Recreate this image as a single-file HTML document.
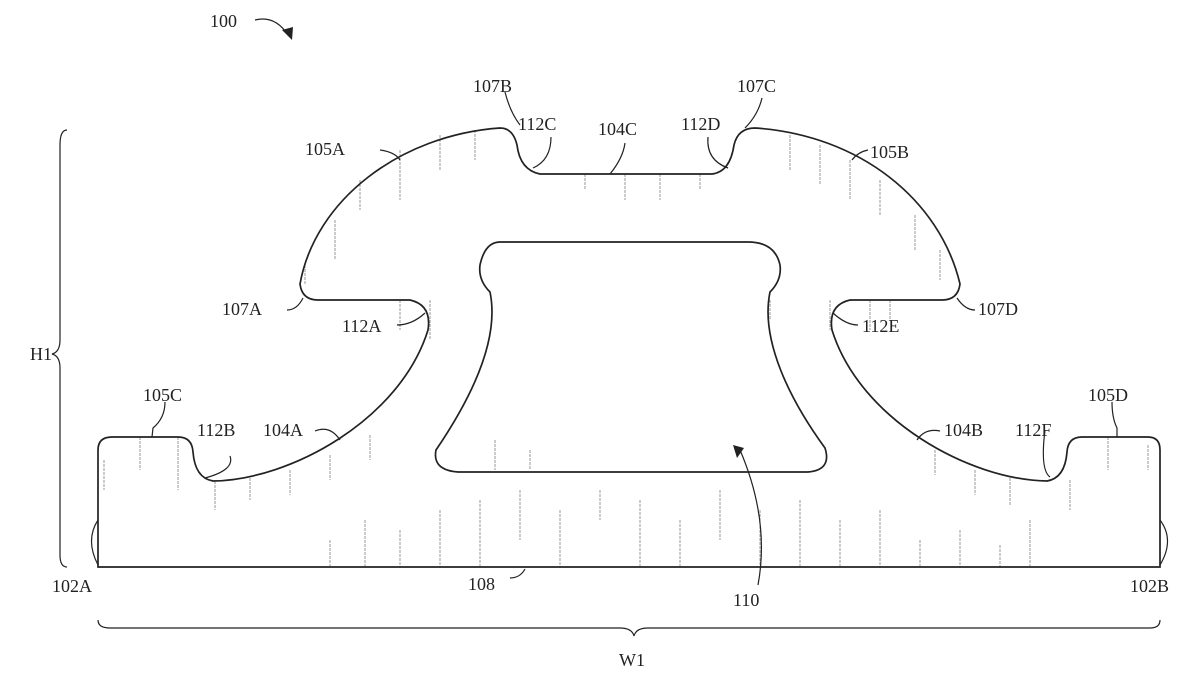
<!DOCTYPE html>
<html><head><meta charset="utf-8"><style>
html,body{margin:0;padding:0;background:#fff;}
svg{display:block}
text{font-family:"Liberation Serif",serif;font-size:18px;fill:#222}
</style></head><body>
<svg width="1200" height="679" viewBox="0 0 1200 679" xmlns="http://www.w3.org/2000/svg">
<g stroke="#999" stroke-width="1" stroke-dasharray="3,1">
<path d="M140,437V470 M178,437V490 M215,481V510 M250,478V500 M290,470V495 M330,455V480 M370,435V460 M330,540V567 M365,520V567 M400,530V567 M440,510V567 M480,500V567 M520,490V540 M560,510V567 M600,490V520 M640,500V567 M680,520V567 M720,490V540 M760,510V567 M800,500V567 M840,520V567 M880,510V567 M920,540V567 M960,530V567 M1000,545V567 M1030,520V567 M1070,480V510 M1108,437V470 M1148,445V470 M975,470V495 M1010,478V505 M935,450V475 M104,460V490"/>
<path d="M360,180V210 M400,150V200 M440,135V170 M475,130V160 M335,220V260 M305,265V285 M585,174V190 M625,174V200 M660,174V200 M700,174V190 M790,135V170 M820,145V185 M850,160V200 M880,180V215 M915,215V250 M940,250V280 M495,440V470 M530,450V470 M770,300V320 M830,300V330 M430,300V340 M400,300V330 M870,300V330 M890,300V320"/>
</g>
<g fill="none" stroke="#222" stroke-width="1.7">
<path d="M98,567 L98,450 Q98,437 112,437 L178,437 Q192,437 193,452 Q195,478 213,481 C290,480 400,420 428,330 Q432,305 410,300 L318,300 Q302,300 300,284 C315,200 400,135 500,128 Q513,128 517,145 Q520,170 540,174 L712,174 Q730,172 734,145 Q738,128 755,128 C860,135 940,200 960,284 Q958,300 942,300 L850,300 Q828,305 832,330 C860,420 970,480 1047,481 Q1065,478 1067,452 Q1068,437 1082,437 L1148,437 Q1160,437 1160,450 L1160,567 Z"/>
<path d="M500,242 L748,242 Q775,242 780,265 Q782,280 770,292 C760,340 790,400 825,448 Q832,470 808,472 L458,472 Q432,470 436,450 C470,400 500,340 490,292 Q478,280 480,265 Q485,242 500,242 Z"/>
</g>
<g fill="none" stroke="#222" stroke-width="1.2">
<path d="M67,130 Q60,130 60,145 L60,340 Q60,352 52,354 Q60,356 60,368 L60,555 Q60,567 67,567"/>
<path d="M98,620 Q98,628 110,628 L620,628 Q632,628 634,636 Q636,628 648,628 L1150,628 Q1160,628 1160,620"/>
<path d="M98,520 Q85,540 98,565"/>
<path d="M1160,520 Q1175,540 1160,565"/>
<path d="M255,20 Q275,15 288,35"/>
<path d="M380,150 Q395,152 400,160"/>
<path d="M868,150 Q858,152 852,160"/>
<path d="M287,310 Q297,310 303,298"/>
<path d="M397,325 Q412,325 425,313"/>
<path d="M230,456 Q235,470 205,478"/>
<path d="M165,402 Q165,418 153,428 L152,437"/>
<path d="M315,431 Q330,425 340,440"/>
<path d="M505,92 Q510,112 520,125"/>
<path d="M551,137 Q551,160 533,168"/>
<path d="M625,143 Q623,158 610,174"/>
<path d="M708,137 Q706,160 728,168"/>
<path d="M762,98 Q758,115 745,128"/>
<path d="M975,310 Q965,310 957,298"/>
<path d="M858,325 Q846,325 833,313"/>
<path d="M940,431 Q925,428 917,440"/>
<path d="M1045,430 Q1040,470 1050,477"/>
<path d="M1112,402 Q1112,418 1117,428 L1117,437"/>
<path d="M510,578 Q520,578 525,569"/>
<path d="M758,585 Q770,520 740,450"/>
</g>
<path d="M282,30 L292,40 L293,27 Z" fill="#222"/>
<path d="M733,445 L737,458 L744,448 Z" fill="#222"/>
<text x="210" y="27">100</text>
<text x="30" y="360">H1</text>
<text x="619" y="666">W1</text>
<text x="473" y="92">107B</text>
<text x="737" y="92">107C</text>
<text x="518" y="130">112C</text>
<text x="598" y="135">104C</text>
<text x="681" y="130">112D</text>
<text x="305" y="155">105A</text>
<text x="870" y="158">105B</text>
<text x="222" y="315">107A</text>
<text x="342" y="332">112A</text>
<text x="862" y="332">112E</text>
<text x="978" y="315">107D</text>
<text x="143" y="401">105C</text>
<text x="197" y="436">112B</text>
<text x="263" y="436">104A</text>
<text x="944" y="436">104B</text>
<text x="1015" y="436">112F</text>
<text x="1088" y="401">105D</text>
<text x="52" y="592">102A</text>
<text x="1130" y="592">102B</text>
<text x="468" y="590">108</text>
<text x="733" y="606">110</text>
</svg>
</body></html>
